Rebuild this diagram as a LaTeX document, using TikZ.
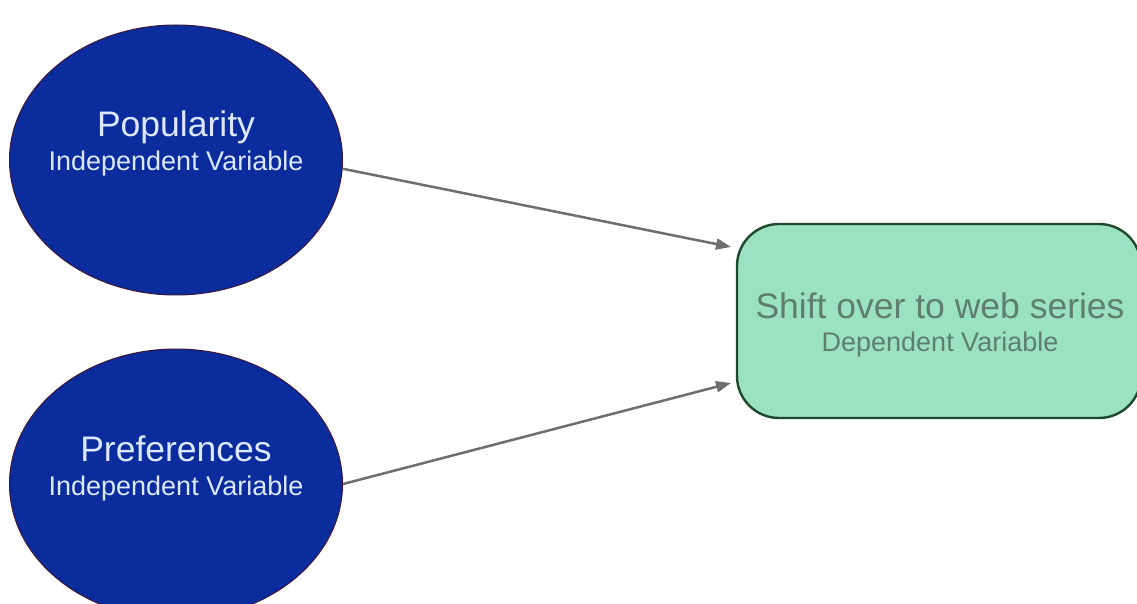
\documentclass[tikz,border=0pt]{standalone}
\usepackage{fontspec}
\setmainfont{Liberation Sans}
\usetikzlibrary{shapes.geometric,arrows.meta}

\definecolor{ivfill}{HTML}{0B2C9C}
\definecolor{ivline}{HTML}{3A1438}
\definecolor{ivtext}{HTML}{DCE8FF}
\definecolor{dvfill}{HTML}{9BE2C3}
\definecolor{dvline}{HTML}{1C4A2A}
\definecolor{dvtext}{HTML}{5F7E6F}
\definecolor{linkgray}{HTML}{6E6E6E}

\tikzset{
  indep/.style={ellipse, draw=ivline, line width=1pt, fill=ivfill,
    minimum width=333, minimum height=270, inner sep=0pt},
  dep/.style={rectangle, rounded corners=42pt, draw=dvline, line width=2.4pt,
    fill=dvfill, minimum width=404, minimum height=194, inner sep=0pt},
  bigtxt/.style={inner sep=0pt, font=\fontsize{35.5}{40}\selectfont},
  smalltxt/.style={inner sep=0pt, font=\fontsize{27}{31}\selectfont},
  link/.style={draw=linkgray, line width=2.5pt,
    -{Triangle[length=15pt,width=11pt]}}
}

\begin{document}
\begin{tikzpicture}[x=1pt,y=-1pt]
  \useasboundingbox (0,0) rectangle (1137,604);

  % independent variables
  \node[indep] (pop) at (176,160) {};
  \node[bigtxt, text=ivtext] (popname) at (176,127) {Popularity};
  \node[smalltxt, text=ivtext] (poprole) at (176,164) {Independent Variable};

  \node[indep] (pref) at (176,484) {};
  \node[bigtxt, text=ivtext] (prefname) at (176,449) {Preferences};
  \node[smalltxt, text=ivtext] (prefrole) at (176,489) {Independent Variable};

  % dependent variable
  \node[dep] (dv) at (939,321) {};
  \node[bigtxt, text=dvtext] (dvname) at (940,306) {Shift over to web series};
  \node[smalltxt, text=dvtext] (dvrole) at (940,345) {Dependent Variable};

  % arrow end points just left of the box
  \coordinate (in1) at (731,247);
  \coordinate (in2) at (731,383);

  \draw[link] (pop.-3) -- (in1);
  \draw[link] (pref.0) -- (in2);
\end{tikzpicture}
\end{document}
